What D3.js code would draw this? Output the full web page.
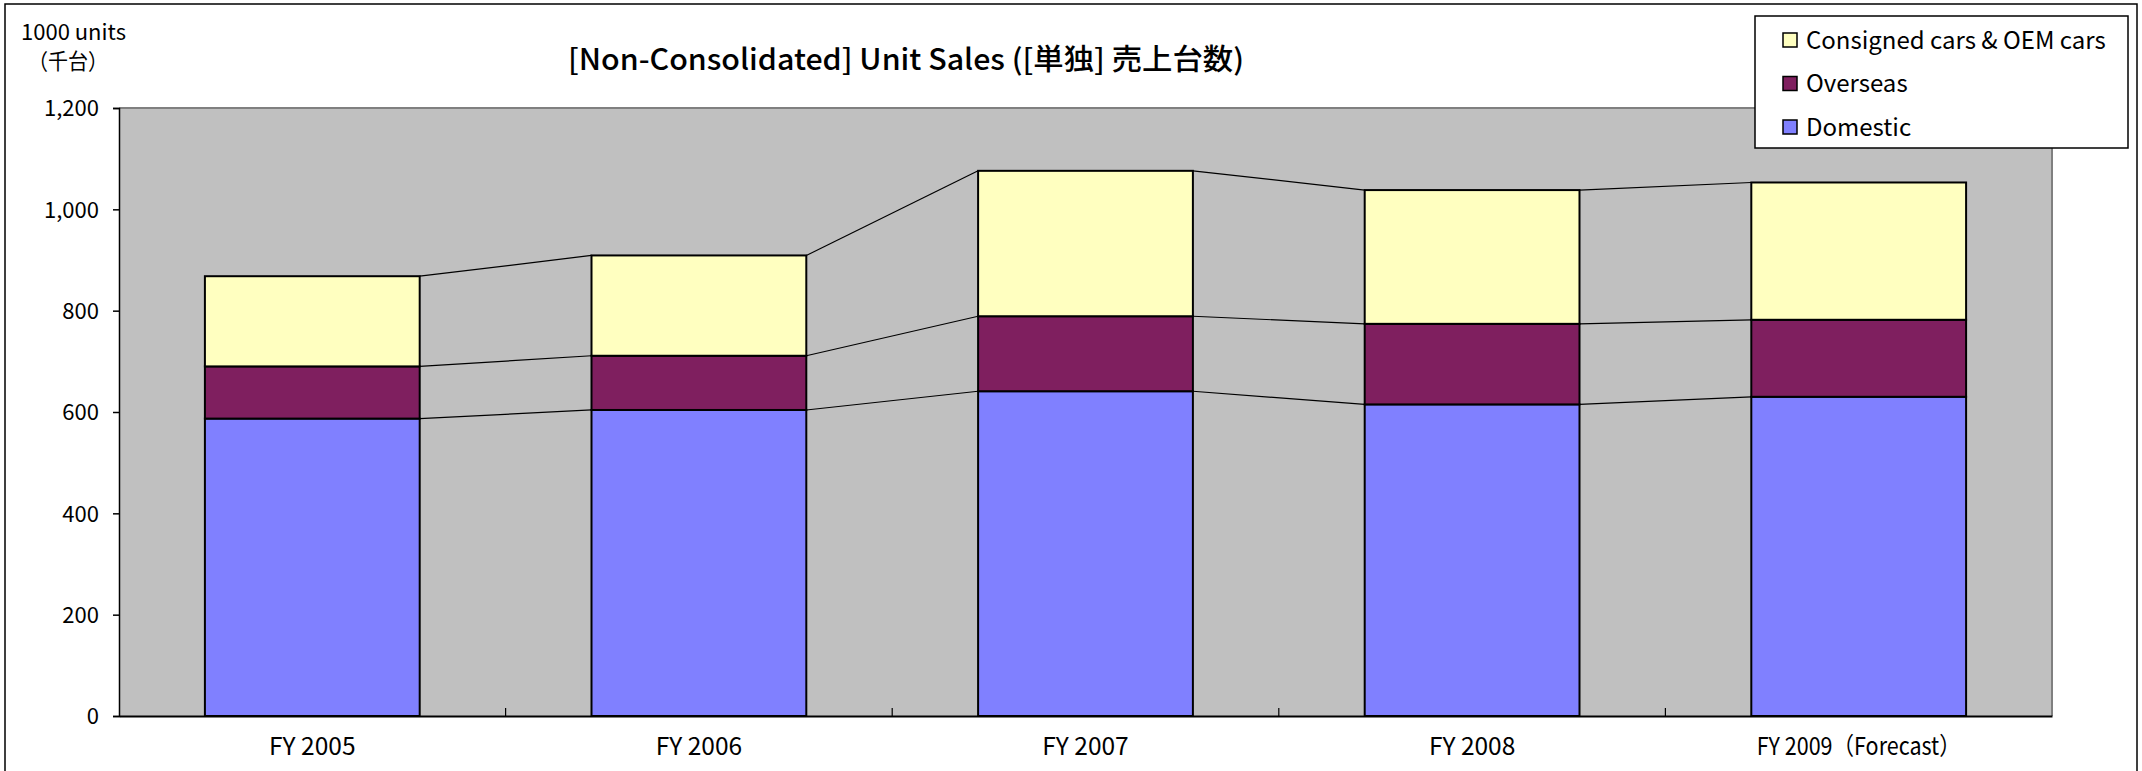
<!DOCTYPE html>
<html>
<head>
<meta charset="utf-8">
<script src="https://cdn.jsdelivr.net/npm/d3@7"></script>
<style>
  html, body { margin: 0; padding: 0; background: #fff; }
  svg { display: block; }
  text { font-family: "Noto Sans CJK JP", "Noto Sans", sans-serif; fill: #000; }
</style>
</head>
<body>
<svg id="chart" width="2142" height="771"></svg>
<script>
// ---- data ----
const categories = ["FY 2005", "FY 2006", "FY 2007", "FY 2008", "FY 2009（Forecast）"];
const domestic   = [587, 604, 641, 615, 630];
const overseas   = [103, 107, 148, 159, 152];
const consigned  = [178, 198, 287, 264, 271];
const seriesNames = ["Domestic", "Overseas", "Consigned cars & OEM cars"];
const yTicks = [0, 200, 400, 600, 800, 1000, 1200];
const titleText = "[Non-Consolidated] Unit Sales ([単独] 売上台数)";
const unitLines = ["1000 units", "（千台）"];

// ---- layout ----
const W = 2142, H = 771;
const plot = { left: 119, right: 2052, top: 108, bottom: 716 };
const colors = ["#8080FF", "#7F1F5F", "#FFFFC0"];

const svg = d3.select("#chart");
svg.append("rect").attr("width", W).attr("height", H).attr("fill", "#fff");
// outer frame
svg.append("rect").attr("x", 5).attr("y", 4).attr("width", 2132).attr("height", 790)
  .attr("fill", "none").attr("stroke", "#000").attr("stroke-width", 1.5);

const x = d3.scaleBand().domain(categories).range([plot.left, plot.right])
  .paddingInner(0.4444).paddingOuter(0.2222);
const y = d3.scaleLinear().domain([0, 1200]).range([plot.bottom, plot.top]);

// plot area
svg.append("rect").attr("x", plot.left).attr("y", plot.top)
  .attr("width", plot.right - plot.left).attr("height", plot.bottom - plot.top)
  .attr("fill", "#C0C0C0");
svg.append("path")
  .attr("d", `M${plot.left},${plot.top}H${plot.right}V${plot.bottom}`)
  .attr("fill", "none").attr("stroke", "#808080").attr("stroke-width", 2);

// stack
const rows = categories.map((c, i) => ({ cat: c, Domestic: domestic[i], Overseas: overseas[i], "Consigned cars & OEM cars": consigned[i] }));
const stack = d3.stack().keys(seriesNames)(rows);

// series lines
const bw = x.bandwidth();
stack.forEach(layer => {
  for (let i = 0; i < layer.length - 1; i++) {
    svg.append("line")
      .attr("x1", x(categories[i]) + bw).attr("y1", y(layer[i][1]))
      .attr("x2", x(categories[i + 1])).attr("y2", y(layer[i + 1][1]))
      .attr("stroke", "#000").attr("stroke-width", 1.2);
  }
});

// bars
stack.forEach((layer, k) => {
  svg.append("g").selectAll("rect").data(layer).join("rect")
    .attr("x", (d, i) => x(categories[i]))
    .attr("y", d => y(d[1]))
    .attr("width", bw)
    .attr("height", d => y(d[0]) - y(d[1]))
    .attr("fill", colors[k])
    .attr("stroke", "#000").attr("stroke-width", 2);
});

// y axis
const yAxis = d3.axisLeft(y).tickValues(yTicks).tickSize(6).tickPadding(14)
  .tickFormat(d3.format(","));
const gy = svg.append("g").attr("transform", `translate(${plot.left},0)`).call(yAxis);
gy.select(".domain").attr("stroke", "#000").attr("stroke-width", 1.5);
gy.selectAll(".tick line").attr("stroke", "#000").attr("stroke-width", 1.5);
gy.selectAll(".tick text").attr("font-size", 22).attr("font-family", "Noto Sans CJK JP").attr("fill", "#000")
  .attr("dy", "0.35em");

// x axis
const xAxis = d3.axisBottom(x).tickSize(0).tickPadding(22);
const gx = svg.append("g").attr("transform", `translate(0,${plot.bottom})`).call(xAxis);
gx.select(".domain").attr("stroke", "#000").attr("stroke-width", 2);
gx.selectAll(".tick text").attr("font-size", 24.5).attr("font-family", "Noto Sans CJK JP").attr("fill", "#000");
gx.selectAll(".tick text").filter(d => d === categories[4])
  .attr("textLength", 204).attr("lengthAdjust", "spacingAndGlyphs");
// category boundary ticks (inside)
const step = x.step();
categories.slice(1).forEach((c, i) => {
  const bx = x(c) - (step - bw) / 2;
  svg.append("line").attr("x1", bx).attr("x2", bx)
    .attr("y1", plot.bottom).attr("y2", plot.bottom - 8)
    .attr("stroke", "#000").attr("stroke-width", 1.2);
});

// unit label (one text, two lines)
const ut = svg.append("text").attr("font-size", 22);
ut.append("tspan").attr("x", 21).attr("y", 40).text(unitLines[0]);
ut.append("tspan").attr("x", 28).attr("y", 69)
  .attr("textLength", 80).attr("lengthAdjust", "spacingAndGlyphs").text(unitLines[1]);

// title
svg.append("text").attr("x", 906).attr("y", 70).attr("text-anchor", "middle")
  .attr("font-size", 29).attr("font-weight", 500)
  .attr("textLength", 676).attr("lengthAdjust", "spacingAndGlyphs")
  .text(titleText);

// legend
const lg = svg.append("g");
lg.append("rect").attr("x", 1755).attr("y", 16).attr("width", 373).attr("height", 132)
  .attr("fill", "#fff").attr("stroke", "#000").attr("stroke-width", 1.5);
const legendOrder = [2, 1, 0];
legendOrder.forEach((k, j) => {
  const cy = 40 + j * 43.5;
  lg.append("rect").attr("x", 1783).attr("y", cy - 7).attr("width", 14).attr("height", 14)
    .attr("fill", colors[k]).attr("stroke", "#000").attr("stroke-width", 1.5);
  lg.append("text").attr("x", 1806).attr("y", cy).attr("dy", "0.36em")
    .attr("font-size", 24).text(seriesNames[k]);
});
</script>
</body>
</html>
